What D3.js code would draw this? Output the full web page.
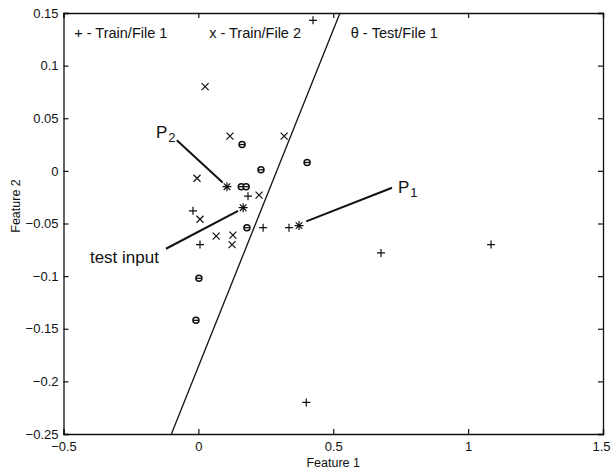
<!DOCTYPE html>
<html>
<head>
<meta charset="utf-8">
<script src="https://cdn.jsdelivr.net/npm/d3@7"></script>
<style>
  body { margin: 0; background: #fff; }
  svg text, svg tspan { font-family: "Liberation Sans", Arial, sans-serif; fill: #111; }
</style>
</head>
<body>
<div class="chart"></div>
<script>
// Train/File 1 (+)
const train1X = [0.425, -0.02, 0.184, 0.24, 0.336, 0.006, 0.677, 1.085, 0.40];
const train1Y = [0.143, -0.038, -0.024, -0.054, -0.054, -0.070, -0.078, -0.070, -0.220];
// Train/File 2 (x)
const train2X = [0.025, 0.117, 0.318, -0.005, 0.225, 0.006, 0.066, 0.128, 0.125];
const train2Y = [0.080, 0.033, 0.033, -0.007, -0.023, -0.046, -0.062, -0.061, -0.070];
// Test/File 1
const testX = [0.162, 0.403, 0.232, 0.159, 0.177, 0.18, 0.002, -0.009];
const testY = [0.025, 0.008, 0.001, -0.015, -0.015, -0.054, -0.102, -0.142];
// prototypes P2, test input, P1 (*)
const starX = [0.106, 0.166, 0.373];
const starY = [-0.015, -0.035, -0.052];
// decision boundary
const boundX = [-0.1, 0.525];
const boundY = [-0.25, 0.15];

const xTicks = [-0.5, 0, 0.5, 1, 1.5];
const yTicks = [0.15, 0.1, 0.05, 0, -0.05, -0.1, -0.15, -0.2, -0.25];
const legendLabels = ["+ - Train/File 1", "x - Train/File 2", "\u03B8 - Test/File 1"];
const legendX = [-0.46, 0.04, 0.565];

// annotation lines: [x1, y1, x2, y2] and labels
const noteLines = [
  [-0.08, 0.029, 0.09, -0.011],
  [-0.12, -0.074, 0.147, -0.038],
  [0.40, -0.048, 0.718, -0.016]
];
const noteText = [
  {x: -0.157, y: 0.031, main: "P", sub: "2"},
  {x: -0.402, y: -0.0875, main: "test input", sub: ""},
  {x: 0.740, y: -0.021, main: "P", sub: "1"}
];

const W = 611, H = 472;
const margin = {top: 13, right: 8, bottom: 38, left: 63.5};
const width = W - margin.left - margin.right,
      height = H - margin.top - margin.bottom;

const x = d3.scaleLinear().domain([-0.5, 1.5]).range([0, width]);
const y = d3.scaleLinear().domain([-0.25, 0.15]).range([height, 0]);

const svg = d3.select(".chart").append("svg")
    .attr("width", W)
    .attr("height", H);

const g = svg.append("g")
    .attr("transform", `translate(${margin.left},${margin.top})`);

// axes with inward ticks on all sides
const fmt = (d) => d3.format("")(d);
const axes = [
  g.append("g").attr("class", "x-axis").attr("transform", `translate(0,${height})`)
    .call(d3.axisBottom(x).tickValues(xTicks).tickSize(-5).tickPadding(8).tickFormat(fmt)),
  g.append("g")
    .call(d3.axisLeft(y).tickValues(yTicks).tickSize(-5).tickPadding(5).tickFormat(fmt)),
  g.append("g")
    .call(d3.axisTop(x).tickValues(xTicks).tickSize(-5).tickFormat("")),
  g.append("g").attr("transform", `translate(${width},0)`)
    .call(d3.axisRight(y).tickValues(yTicks).tickSize(-5).tickFormat(""))
];
axes.forEach((a) => {
  a.select(".domain").attr("stroke", "#111").attr("stroke-width", 1.3);
  a.selectAll(".tick line").attr("stroke", "#111").attr("stroke-width", 1.2);
  a.selectAll("text").attr("font-size", 13).attr("font-family", "Liberation Sans, Arial, sans-serif").attr("fill", "#111");
});
// keep the last x label inside the page
g.select(".x-axis").selectAll(".tick text")
    .filter((d) => d === 1.5)
    .attr("text-anchor", "end")
    .attr("dx", 7);

// axis titles
svg.append("text")
    .attr("x", margin.left + x(0.5))
    .attr("y", 467)
    .attr("text-anchor", "middle")
    .attr("font-size", 12.5)
    .text("Feature 1");
svg.append("text")
    .attr("transform", "translate(20,206) rotate(-90)")
    .attr("text-anchor", "middle")
    .attr("font-size", 12.5)
    .text("Feature 2");

// legend
g.selectAll(".legend")
    .data(legendLabels)
    .enter().append("text")
    .attr("class", "legend")
    .attr("x", (d, i) => x(legendX[i]))
    .attr("y", 25)
    .attr("font-size", 14.5)
    .text((d) => d);

// decision boundary
g.append("line")
    .attr("x1", x(boundX[0])).attr("y1", y(boundY[0]))
    .attr("x2", x(boundX[1])).attr("y2", y(boundY[1]))
    .attr("stroke", "#111")
    .attr("stroke-width", 1.3);

// annotation leader lines
g.selectAll(".note-line")
    .data(noteLines)
    .enter().append("line")
    .attr("class", "note-line")
    .attr("x1", (d) => x(d[0])).attr("y1", (d) => y(d[1]))
    .attr("x2", (d) => x(d[2])).attr("y2", (d) => y(d[3]))
    .attr("stroke", "#111")
    .attr("stroke-width", 2);

const notes = g.selectAll(".note")
    .data(noteText)
    .enter().append("text")
    .attr("class", "note")
    .attr("x", (d) => x(d.x))
    .attr("y", (d) => y(d.y))
    .attr("font-size", 17);
notes.append("tspan").attr("fill", "#111").text((d) => d.main);
notes.append("tspan")
    .attr("dx", 1)
    .attr("dy", 4)
    .attr("font-size", 13)
    .attr("fill", "#111")
    .text((d) => d.sub);

const mk = "#111";
// + markers
g.append("g").selectAll("path")
    .data(train1X.map((v, i) => [v, train1Y[i]]))
    .enter().append("path")
    .attr("transform", (d) => `translate(${x(d[0])},${y(d[1])})`)
    .attr("d", "M-4,0H4M0,-4V4")
    .attr("stroke", mk).attr("stroke-width", 1.2);

// x markers
g.append("g").selectAll("path")
    .data(train2X.map((v, i) => [v, train2Y[i]]))
    .enter().append("path")
    .attr("transform", (d) => `translate(${x(d[0])},${y(d[1])})`)
    .attr("d", "M-3.5,-3.5L3.5,3.5M-3.5,3.5L3.5,-3.5")
    .attr("stroke", mk).attr("stroke-width", 1.2);

// test markers (circle with bar)
const tg = g.append("g").selectAll("g")
    .data(testX.map((v, i) => [v, testY[i]]))
    .enter().append("g")
    .attr("transform", (d) => `translate(${x(d[0])},${y(d[1])})`);
tg.append("circle").attr("r", 3)
    .attr("fill", "#fff").attr("stroke", mk).attr("stroke-width", 1.5);
tg.append("path").attr("d", "M-3,0H3")
    .attr("stroke", mk).attr("stroke-width", 1.3);

// asterisks
g.append("g").selectAll("path")
    .data(starX.map((v, i) => [v, starY[i]]))
    .enter().append("path")
    .attr("transform", (d) => `translate(${x(d[0])},${y(d[1])})`)
    .attr("d", "M-4.5,0H4.5M0,-4.5V4.5M-3.3,-3.3L3.3,3.3M-3.3,3.3L3.3,-3.3")
    .attr("stroke", mk).attr("stroke-width", 1.2);
</script>
</body>
</html>
